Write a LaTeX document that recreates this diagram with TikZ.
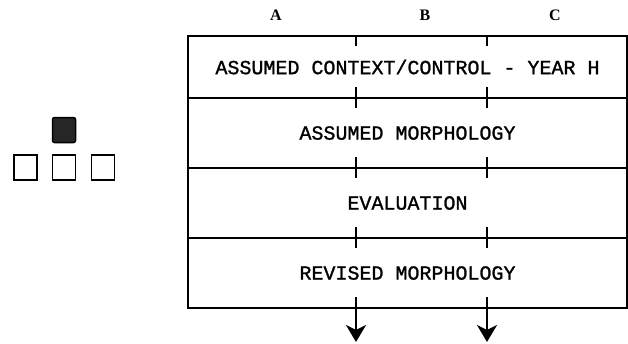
\documentclass[tikz,border=0pt]{standalone}
\usepackage{fontspec}
\setmainfont{Liberation Serif}
\setmonofont[FakeBold=1.2]{Liberation Mono}
\usetikzlibrary{arrows.meta}
\begin{document}
\begin{tikzpicture}[x=1pt,y=-1pt,
  rowbox/.style={draw,line width=2pt,minimum width=439pt,minimum height=70pt,inner sep=0pt,
     font=\fontsize{20}{21}\selectfont\ttfamily},
  colname/.style={font=\fontsize{16}{17}\selectfont\bfseries},
  tick/.style={line width=2pt},
  outarrow/.style={line width=2.4pt,-{Stealth[width=20pt,length=17pt,inset=5pt]}},
  sq/.style={draw,line width=1.5pt,minimum width=23pt,minimum height=25pt,inner sep=0pt},
  sqfill/.style={sq,fill=black!85,rounded corners=2pt}]
\useasboundingbox (0,0) rectangle (628,343);
\node[colname] (lA) at (276,15) {A};
\node[colname] (lB) at (425,15) {B};
\node[colname] (lC) at (555,15) {C};
\node[rowbox,minimum height=62pt] (r1) at (407.5,67) {ASSUMED CONTEXT/CONTROL - YEAR H};
\node[rowbox] (r2) at (407.5,133) {ASSUMED MORPHOLOGY};
\node[rowbox] (r3) at (407.5,203) {EVALUATION};
\node[rowbox] (r4) at (407.5,273) {REVISED MORPHOLOGY};
\foreach \r in {r1,r2,r3,r4}{
  \foreach \x in {356,487}{
    \draw[tick] (\x,0 |- \r.north) -- ++(0,11);
    \draw[tick] (\x,0 |- \r.south) -- ++(0,-12);
  }
}
\coordinate (oA) at (356,342);
\coordinate (oB) at (487,342);
\draw[outarrow] (r4.south -| oA) -- (oA);
\draw[outarrow] (r4.south -| oB) -- (oB);
\node[sqfill] (s0) at (64,130) {};
\node[sq] (s1) at (25.5,167.5) {};
\node[sq] (s2) at (64,167.5) {};
\node[sq] (s3) at (103,167.5) {};
\end{tikzpicture}
\end{document}
